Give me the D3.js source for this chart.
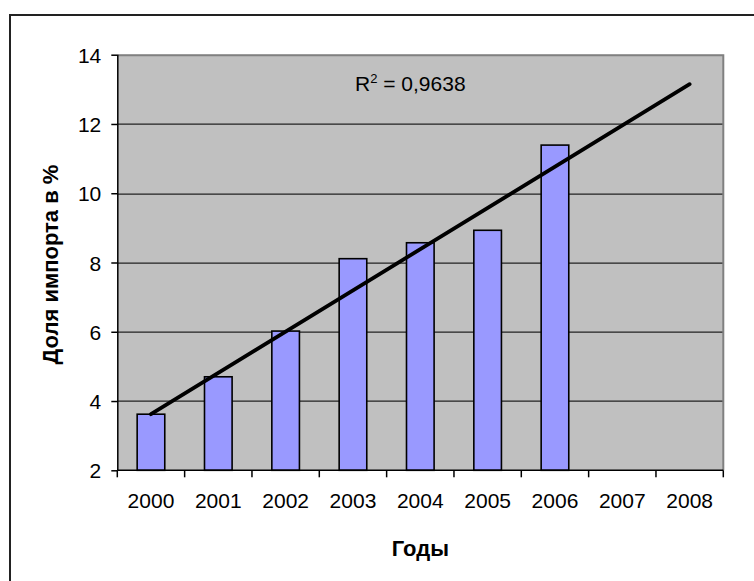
<!DOCTYPE html>
<html>
<head>
<meta charset="utf-8">
<script src="https://cdn.jsdelivr.net/npm/d3@7"></script>
<style>
  body { margin: 0; background: #fff; }
  svg text { font-family: Arial, "Liberation Sans", sans-serif; fill: #000; }
</style>
</head>
<body>
<div class="container"></div>
<script>
const years = ['2000', '2001', '2002', '2003', '2004', '2005', '2006', '2007', '2008'];
const barYears = ['2000', '2001', '2002', '2003', '2004', '2005', '2006'];
const shares = [3.62, 4.70, 6.02, 8.11, 8.57, 8.93, 11.39];
const trendYears = ['2000', '2008'];
const trendValues = [3.62, 13.15];
const yTicks = [2, 4, 6, 8, 10, 12, 14];
const r2Label = '0,9638';

const width = 754;
const height = 581;
const margin = { top: 54.7, right: 30.7, bottom: 110.7, left: 117.3 };
const plotWidth = width - margin.left - margin.right;
const plotHeight = height - margin.top - margin.bottom;

const svg = d3.select('.container')
    .append('svg')
    .attr('width', width)
    .attr('height', height);

// outer chart frame (runs past the window on the right and bottom)
svg.append('rect')
    .attr('x', 10)
    .attr('y', 15)
    .attr('width', 800)
    .attr('height', 700)
    .attr('fill', 'none')
    .attr('stroke', '#222')
    .attr('stroke-width', 2);

const mainGroup = svg.append('g')
    .attr('transform', `translate(${margin.left}, ${margin.top})`);

const xScale = d3.scaleBand()
    .domain(years)
    .range([0, plotWidth]);

const yScale = d3.scaleLinear()
    .domain([2, 14])
    .range([plotHeight, 0]);

const bw = xScale.bandwidth();
const barW = bw * 0.41;

mainGroup.append('rect')
    .attr('width', plotWidth)
    .attr('height', plotHeight)
    .attr('fill', '#c0c0c0');

// gridlines
mainGroup.append('g')
    .selectAll('line')
    .data(yTicks.slice(1, -1))
    .join('line')
    .attr('x1', 0)
    .attr('x2', plotWidth)
    .attr('y1', d => Math.round(yScale(d)) + 0.5)
    .attr('y2', d => Math.round(yScale(d)) + 0.5)
    .attr('stroke', '#222')
    .attr('stroke-width', 1.2);

// top / right border of plot area
mainGroup.append('path')
    .attr('d', `M0,0.5H${plotWidth}V${plotHeight}`)
    .attr('fill', 'none')
    .attr('stroke', '#808080')
    .attr('stroke-width', 2);

// bars
mainGroup.append('g')
    .selectAll('rect')
    .data(barYears)
    .join('rect')
    .attr('x', d => xScale(d) + (bw - barW) / 2)
    .attr('y', (d, i) => yScale(shares[i]))
    .attr('width', barW)
    .attr('height', (d, i) => plotHeight - yScale(shares[i]))
    .attr('fill', '#9999ff')
    .attr('stroke', '#000')
    .attr('stroke-width', 1.6);

// trend line
const line_generator = d3.line()
    .x(d => xScale(d) + bw / 2)
    .y((d, i) => yScale(trendValues[i]));

mainGroup.append('path')
    .attr('d', line_generator(trendYears))
    .attr('fill', 'none')
    .attr('stroke', '#000')
    .attr('stroke-width', 3.8)
    .attr('stroke-linecap', 'round');

// y axis
const gYAxis = mainGroup.append('g')
    .call(d3.axisLeft(yScale).tickValues(yTicks).tickSize(6).tickPadding(10));
gYAxis.selectAll('text').style('font-size', '21px').attr('dy', '0.36em');
gYAxis.selectAll('line, path').attr('stroke', '#000').attr('stroke-width', 1.5);
gYAxis.select('.domain').attr('d', `M0.5,0V${plotHeight}`);

// x axis: labels centred in bands, ticks on band boundaries
const gXAxis = mainGroup.append('g')
    .attr('transform', `translate(0, ${plotHeight})`);
gXAxis.append('line')
    .attr('x1', 0).attr('x2', plotWidth)
    .attr('stroke', '#000').attr('stroke-width', 1.5);
gXAxis.selectAll('.tickmark')
    .data(years.map(d => xScale(d)).concat([plotWidth]))
    .join('line')
    .attr('class', 'tickmark')
    .attr('x1', d => d).attr('x2', d => d)
    .attr('y1', 0).attr('y2', 7)
    .attr('stroke', '#000').attr('stroke-width', 1.5);
gXAxis.selectAll('.label')
    .data(years)
    .join('text')
    .attr('class', 'label')
    .attr('x', d => xScale(d) + bw / 2)
    .attr('y', 38)
    .attr('text-anchor', 'middle')
    .style('font-size', '21px')
    .text(d => d);

// R² label
const r2 = mainGroup.append('text')
    .attr('x', 237.7)
    .attr('y', 36)
    .style('font-size', '21px');
r2.append('tspan').text('R');
r2.append('tspan').attr('dy', -8).style('font-size', '13px').text('2');
r2.append('tspan').attr('dy', 8).text(' = ' + r2Label);

// axis titles
svg.append('text')
    .attr('x', margin.left + plotWidth / 2)
    .attr('y', 556)
    .attr('text-anchor', 'middle')
    .style('font-size', '22px')
    .style('font-weight', 'bold')
    .text('Годы');

svg.append('text')
    .attr('transform', `translate(58, ${margin.top + plotHeight / 2 + 2}) rotate(-90)`)
    .attr('text-anchor', 'middle')
    .style('font-size', '22px')
    .style('font-weight', 'bold')
    .text('Доля импорта в %');
</script>
</body>
</html>
